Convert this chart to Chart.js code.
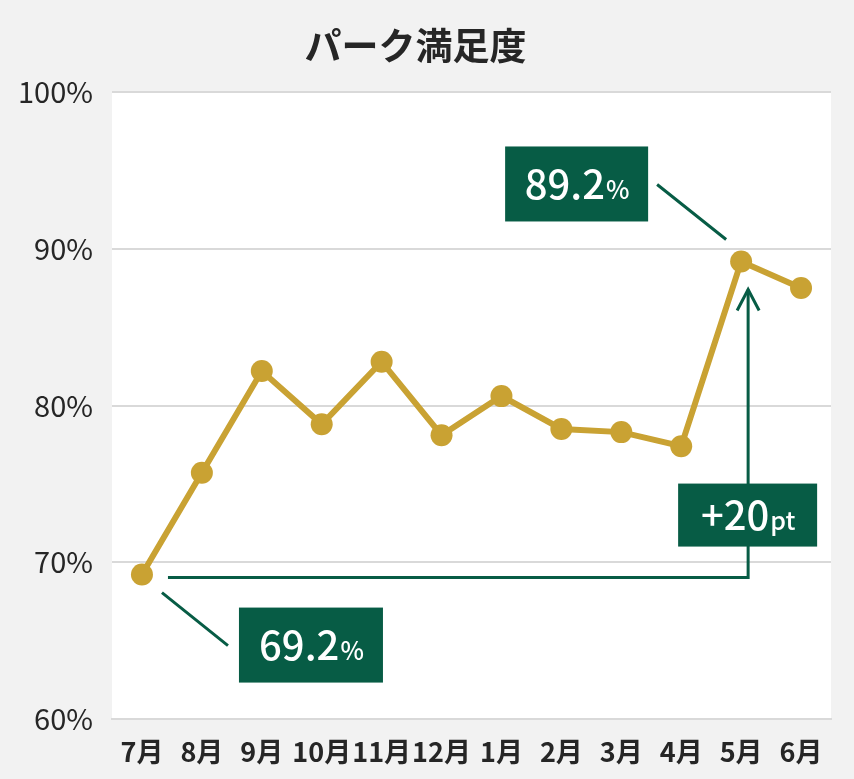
<!DOCTYPE html>
<html lang="ja">
<head>
<meta charset="utf-8">
<script src="https://cdn.jsdelivr.net/npm/chart.js@4.4.1/dist/chart.umd.min.js"></script>
<style>
  html, body { margin: 0; padding: 0; background: #f2f2f2; }
  #wrap { width: 854px; height: 779px; }
</style>
</head>
<body>
<div id="wrap"><canvas id="grafica" width="854" height="779"></canvas></div>
<script>
const meses = ["7月", "8月", "9月", "10月", "11月", "12月", "1月", "2月", "3月", "4月", "5月", "6月"]
const satisfaccion = [69.2, 75.7, 82.2, 78.8, 82.8, 78.1, 80.6, 78.5, 78.3, 77.4, 89.2, 87.5]
const ticksY = [60, 70, 80, 90, 100]

const oro = "#c9a233"
const verde = "#075c45"
const fuente = "'Noto Sans CJK JP', 'Noto Sans', sans-serif"

// Fondo blanco sólo dentro del área del gráfico
const fondoArea = {
    id: "fondoArea",
    beforeDraw(chart) {
        const { ctx, chartArea } = chart
        ctx.save()
        ctx.fillStyle = "#ffffff"
        ctx.fillRect(chartArea.left, chartArea.top, chartArea.right - chartArea.left, chartArea.bottom - chartArea.top)
        ctx.restore()
    }
}

function caja(ctx, x1, y1, x2, y2, grande, chico) {
    ctx.fillStyle = verde
    ctx.fillRect(x1, y1, x2 - x1, y2 - y1)
    ctx.fillStyle = "#ffffff"
    ctx.textBaseline = "alphabetic"
    ctx.font = "500 40px " + fuente
    const w1 = ctx.measureText(grande).width
    ctx.font = "500 25px " + fuente
    const w2 = ctx.measureText(chico).width
    const x = (x1 + x2) / 2 - (w1 + w2) / 2
    const y = (y1 + y2) / 2 + 15
    ctx.font = "500 40px " + fuente
    ctx.fillText(grande, x, y)
    ctx.font = "500 25px " + fuente
    ctx.fillText(chico, x + w1 + 1, y)
}

// Notas: cajas verdes y flecha, colocadas a partir de los puntos
const notas = {
    id: "notas",
    afterDatasetsDraw(chart) {
        const { ctx } = chart
        const puntos = chart.getDatasetMeta(0).data
        const p0 = puntos[0]
        const p1 = puntos[10]
        ctx.save()
        ctx.strokeStyle = verde
        ctx.lineWidth = 3
        ctx.lineCap = "butt"

        // flecha +20pt
        const ax = p1.x + 7
        ctx.beginPath()
        ctx.moveTo(p0.x + 26, p0.y + 3)
        ctx.lineTo(ax, p0.y + 3)
        ctx.lineTo(ax, p1.y + 28)
        ctx.stroke()
        ctx.beginPath()
        ctx.moveTo(ax - 11, p1.y + 49)
        ctx.lineTo(ax, p1.y + 28)
        ctx.lineTo(ax + 11, p1.y + 49)
        ctx.stroke()

        // conectores
        ctx.beginPath()
        ctx.moveTo(p0.x + 20, p0.y + 18)
        ctx.lineTo(p0.x + 86, p0.y + 71)
        ctx.moveTo(p1.x - 84, p1.y - 77)
        ctx.lineTo(p1.x - 15, p1.y - 22)
        ctx.stroke()

        caja(ctx, p0.x + 97, p0.y + 33, p0.x + 241, p0.y + 108, "69.2", "%")
        caja(ctx, p1.x - 236, p1.y - 115, p1.x - 93, p1.y - 40, "89.2", "%")
        caja(ctx, ax - 70, p0.y - 91, ax + 69, p0.y - 28, "+20", "pt")
        ctx.restore()
    }
}

const ctx = document.getElementById("grafica")
new Chart(ctx, {
    type: "line",
    data: {
        labels: meses,
        datasets: [{
            label: "パーク満足度",
            data: satisfaccion,
            borderColor: oro,
            backgroundColor: oro,
            borderWidth: 6,
            pointRadius: 11,
            pointHoverRadius: 11,
            pointBorderWidth: 0,
            tension: 0
        }]
    },
    options: {
        responsive: false,
        animation: false,
        devicePixelRatio: 1,
        layout: { padding: { left: 0, right: 23, top: 0, bottom: 2 } },
        plugins: {
            legend: { display: false },
            tooltip: { enabled: false },
            title: {
                display: true,
                text: "パーク満足度",
                color: "#262626",
                font: { family: fuente, size: 37, weight: "bold" },
                padding: { top: 24, bottom: 24 }
            }
        },
        scales: {
            x: {
                offset: true,
                grid: { display: false },
                border: { display: true, color: "#d9d9d9", width: 2 },
                ticks: {
                    color: "#262626",
                    font: { family: fuente, size: 27, weight: "bold" },
                    maxRotation: 0,
                    autoSkip: false,
                    padding: 9
                }
            },
            y: {
                min: 60,
                max: 100,
                afterBuildTicks: escala => { escala.ticks = ticksY.map(v => ({ value: v })) },
                afterFit: escala => { escala.width = 112 },
                grid: { color: "#d9d9d9", lineWidth: 2, drawTicks: false },
                border: { display: false },
                ticks: {
                    color: "#262626",
                    font: { family: fuente, size: 29 },
                    padding: 19,
                    callback: v => v + "%"
                }
            }
        }
    },
    plugins: [fondoArea, notas]
})
</script>
</body>
</html>
